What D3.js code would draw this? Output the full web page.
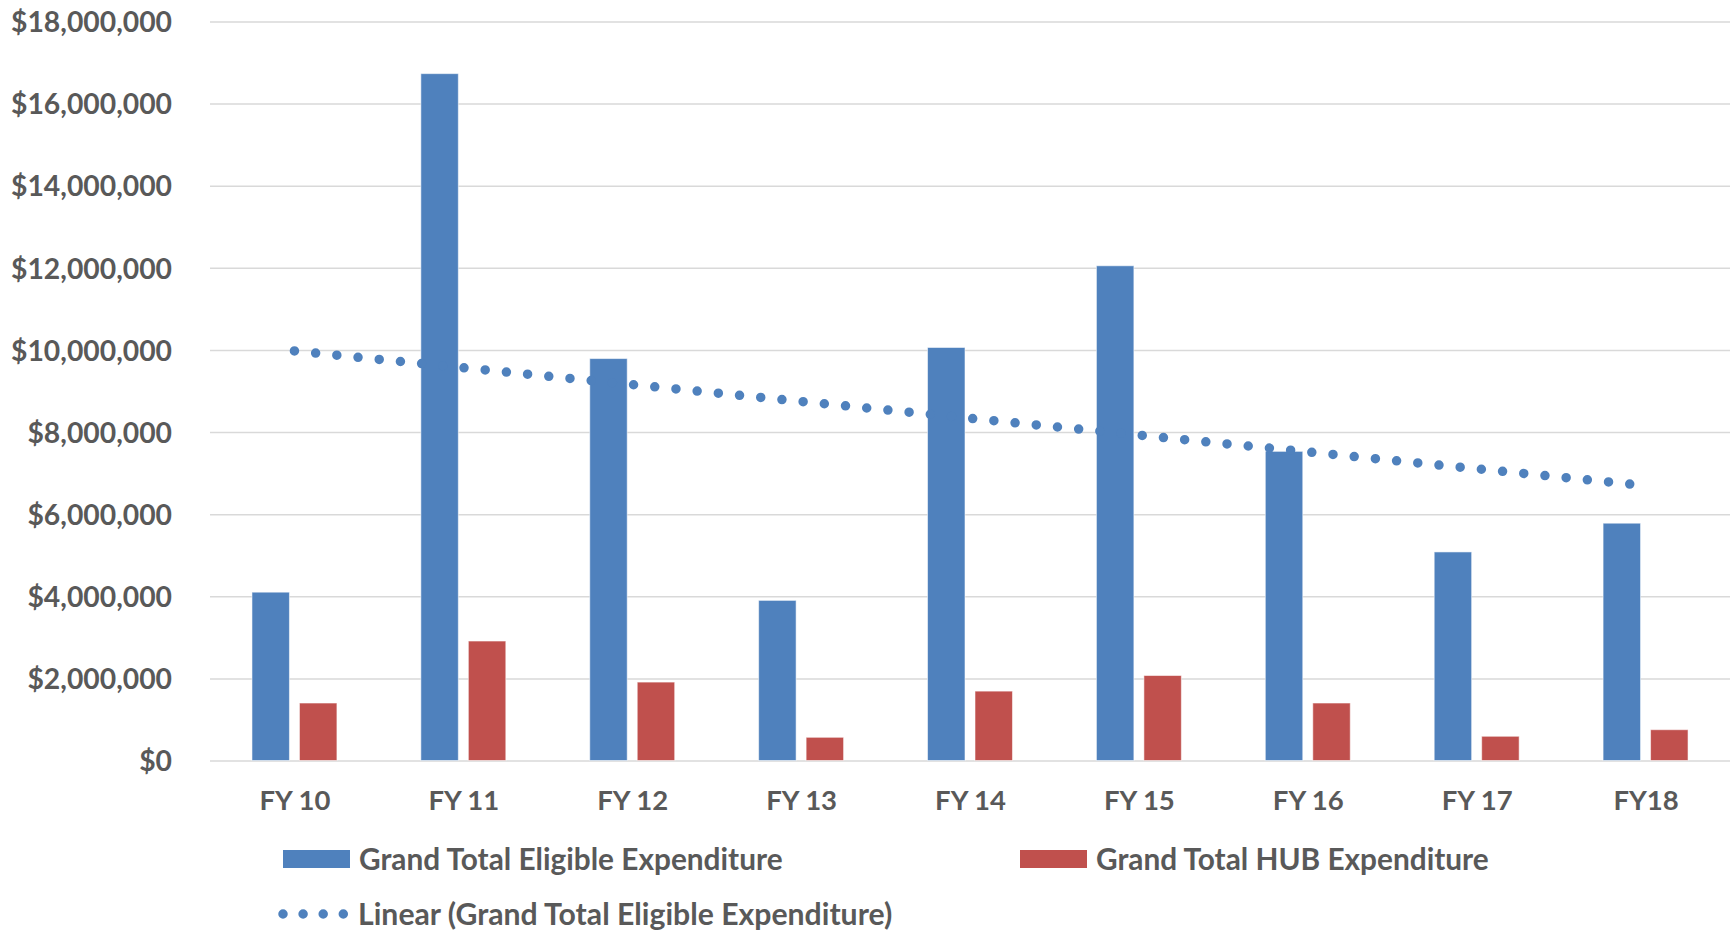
<!DOCTYPE html>
<html>
<head>
<meta charset="utf-8">
<script src="https://cdn.jsdelivr.net/npm/d3@7"></script>
<style>
  html, body { margin: 0; padding: 0; background: #fff; }
  svg { display: block; }
  text { font-family: Lato, "Open Sans", sans-serif; font-weight: 700; fill: #595959; }
</style>
</head>
<body>
<svg id="chart" width="1733" height="931"></svg>
<script>
const categories = ["FY 10", "FY 11", "FY 12", "FY 13", "FY 14", "FY 15", "FY 16", "FY 17", "FY18"];
const eligible = [4100000, 16730000, 9790000, 3900000, 10060000, 12050000, 7530000, 5080000, 5780000];
const hub = [1400000, 2910000, 1910000, 565000, 1690000, 2070000, 1400000, 590000, 750000];
const yTicks = [0, 2000000, 4000000, 6000000, 8000000, 10000000, 12000000, 14000000, 16000000, 18000000];
const seriesNames = ["Grand Total Eligible Expenditure", "Grand Total HUB Expenditure"];
const trendName = "Linear (Grand Total Eligible Expenditure)";
const colors = ["#4F81BD", "#C0504D"];

const svg = d3.select("#chart");
const plot = { left: 210, right: 1730, top: 21.5, bottom: 760.5 };

const y = d3.scaleLinear().domain([0, 18000000]).range([plot.bottom, plot.top]);
const x0 = d3.scaleBand().domain(categories).range([plot.left, plot.right])
  .paddingInner(0.497).paddingOuter(0.2485);
const x1 = d3.scaleBand().domain([0, 1]).range([0, x0.bandwidth()]).paddingInner(0.211);

// gridlines
const yAxis = d3.axisLeft(y).tickValues(yTicks)
  .tickSize(-(plot.right - plot.left))
  .tickFormat(d => "$" + d3.format(",")(d));
const gy = svg.append("g").attr("transform", `translate(${plot.left},0)`).call(yAxis);
gy.select(".domain").remove();
gy.selectAll(".tick line").attr("stroke", "#D9D9D9").attr("stroke-width", 1.5);
gy.selectAll(".tick text").attr("x", -38).attr("dy", "0.36em")
  .style("font-size", "28.3px").attr("fill", "#595959");

// bars
const rows = categories.map((c, i) => ({ c, vals: [eligible[i], hub[i]] }));
const groups = svg.append("g").selectAll("g").data(rows).join("g")
  .attr("transform", d => `translate(${x0(d.c)},0)`);
groups.selectAll("rect").data(d => d.vals.map((v, k) => ({ v, k }))).join("rect")
  .attr("x", d => x1(d.k))
  .attr("width", x1.bandwidth())
  .attr("y", d => y(d.v))
  .attr("height", d => y(0) - y(d.v))
  .attr("fill", d => colors[d.k])
  .attr("stroke", "rgba(255,255,255,0.55)")
  .attr("stroke-width", 1);

// x axis labels
const xAxis = d3.axisBottom(d3.scalePoint().domain(categories)
  .range([x0(categories[0]) + x0.bandwidth() / 2, x0(categories[categories.length - 1]) + x0.bandwidth() / 2]))
  .tickSize(0);
const gx = svg.append("g").attr("transform", `translate(0,${plot.bottom})`).call(xAxis);
gx.select(".domain").remove();
gx.selectAll(".tick text").attr("y", 40).attr("dy", "0.36em").style("font-size", "27.5px").attr("fill", "#595959");

// linear trendline (least squares on eligible)
const n = eligible.length;
const xs = d3.range(1, n + 1);
const mx = d3.mean(xs), my = d3.mean(eligible);
const slope = d3.sum(xs, (xv, i) => (xv - mx) * (eligible[i] - my)) / d3.sum(xs, xv => (xv - mx) ** 2);
const icpt = my - slope * mx;
const xc = c => x0(c) + x0.bandwidth() / 2;
const trend = [
  [xc(categories[0]), y(icpt + slope * 1)],
  [xc(categories[n - 1]), y(icpt + slope * n)]
];
svg.append("path")
  .attr("d", d3.line()(trend))
  .attr("fill", "none")
  .attr("stroke", colors[0])
  .attr("stroke-width", 9.5)
  .attr("stroke-linecap", "round")
  .attr("stroke-dasharray", "0 21.3");

// legend
const lg = svg.append("g");
const legendItems = [
  { name: seriesNames[0], color: colors[0], x: 283, y: 859 },
  { name: seriesNames[1], color: colors[1], x: 1020, y: 859 }
];
legendItems.forEach(it => {
  lg.append("rect").attr("x", it.x).attr("y", it.y - 9).attr("width", 67).attr("height", 18).attr("fill", it.color);
  lg.append("text").attr("x", it.x + 76).attr("y", it.y).attr("dy", "0.36em").style("font-size", "29.8px").text(it.name);
});
lg.append("path").attr("d", d3.line()([[283, 914], [350, 914]]))
  .attr("stroke", colors[0]).attr("stroke-width", 9.5).attr("stroke-linecap", "round")
  .attr("stroke-dasharray", "0 20.1").attr("fill", "none");
lg.append("text").attr("x", 358).attr("y", 914).attr("dy", "0.36em").style("font-size", "30.2px").text(trendName);
</script>
</body>
</html>
